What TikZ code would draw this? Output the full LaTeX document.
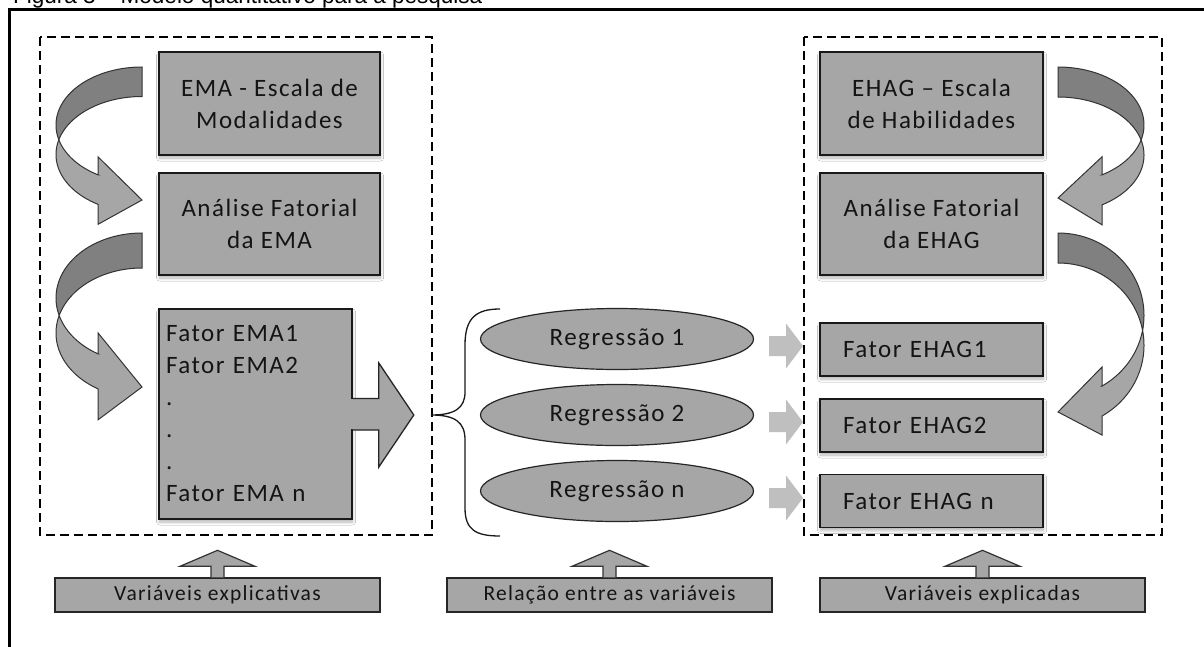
\documentclass[tikz,border=0pt]{standalone}
\usepackage{fontspec}
\setmainfont{Carlito}[LetterSpace=6]
\newfontfamily\capfont{Liberation Sans}
\usetikzlibrary{shapes.geometric,shadows.blur}

\definecolor{boxgray}{HTML}{A6A6A6}
\definecolor{backgray}{HTML}{808080}
\definecolor{pale}{HTML}{BFBFBF}
\definecolor{ink}{HTML}{141414}

\tikzset{
  softshadow/.style={blur shadow={shadow xshift=0.6pt, shadow yshift=-3pt,
      shadow blur steps=6, shadow blur radius=3pt, shadow opacity=30}},
  stage/.style={draw=black!90, line width=1.6pt, fill=boxgray, softshadow,
      inner sep=0pt, align=center, text=ink,
      font=\fontsize{25pt}{32pt}\selectfont},
  factor/.style={stage, align=left, inner xsep=23pt, text width=177pt,
      minimum width=223pt, minimum height=53pt},
  regress/.style={ellipse, draw=black!85, line width=1.2pt, fill=boxgray,
      inner sep=0pt, minimum width=273pt, minimum height=61pt, text=ink,
      font=\fontsize{25pt}{28pt}\selectfont},
  tag/.style={draw=black!85, line width=1.4pt, fill=boxgray, inner sep=0pt,
      minimum width=325pt, minimum height=34pt, text=ink,
      font=\fontsize{21.5pt}{24pt}\selectfont},
  groupframe/.style={line width=2.2pt, dash pattern=on 9pt off 5pt},
  bendback/.style={draw=black!80, line width=1pt, fill=backgray},
  bendfront/.style={draw=black!80, line width=1pt, fill=boxgray},
  lift/.style={draw=black!80, line width=1.2pt, fill=boxgray},
  feed/.style={fill=pale},
  bracket/.style={line width=1.3pt, black!90}
}

% curved ribbon arrow: #1 tail x, #2 tail top y, #3 band thickness,
% #4 vertical radius, #5 side (-1 bulges left, 1 bulges right),
% #6 head rise, #7 head drop, #8 tip y
\newcommand\bentarrow[8]{%
  \pgfmathsetmacro\bendA{acos(-#3/(2*#4))}%
  \pgfmathsetmacro\bendB{acos(#3/(2*#4))}%
  \pgfmathsetmacro\bendE{180-asin(44/86)}%
  \pgfmathsetmacro\bendCA{#2+#4}%
  \pgfmathsetmacro\bendCB{#2+#4+#3}%
  \pgfmathsetmacro\bendHX{#1+(#5)*44}%
  \pgfmathsetmacro\bendYA{\bendCA-#4*cos(\bendE)}%
  \pgfmathsetmacro\bendYB{\bendCB-#4*cos(\bendE)}%
  \draw[bendback]
    plot[domain=0:\bendA, samples=40, variable=\t]
      ({#1+(#5)*86*sin(\t)},{\bendCA-#4*cos(\t)})
    -- plot[domain=\bendB:0, samples=40, variable=\t]
      ({#1+(#5)*86*sin(\t)},{\bendCB-#4*cos(\t)})
    -- cycle;
  \draw[bendfront]
    plot[domain=\bendB:\bendE, samples=40, variable=\t]
      ({#1+(#5)*86*sin(\t)},{\bendCB-#4*cos(\t)})
    -- (\bendHX,\bendYB+#7) -- (#1,#8) -- (\bendHX,\bendYA-#6) -- (\bendHX,\bendYA)
    -- plot[domain=\bendE:\bendA, samples=40, variable=\t]
      ({#1+(#5)*86*sin(\t)},{\bendCA-#4*cos(\t)})
    -- cycle;
}

\begin{document}
\begin{tikzpicture}[x=1pt,y=-1pt]
\path[use as bounding box, clip] (0,0) rectangle (1204,646);
\fill[white] (0,0) rectangle (1204,646);

% caption and outer frame
\node[anchor=base west, inner sep=0pt, font=\capfont\fontsize{22.5pt}{27pt}\selectfont]
  (cap) at (13,3) {Figura 3 – Modelo quantitativo para a pesquisa};
\draw[line width=3pt] (9.5,700) -- (9.5,9.5) -- (1260,9.5);

% dashed groups
\draw[groupframe] (40,37) rectangle (432,535);
\draw[groupframe] (804,37) rectangle (1162,535);

% left column
\node[stage, minimum width=221pt, minimum height=103pt] (ema) at (269.5,103.5)
  {EMA - Escala de\\Modalidades};
\node[stage, minimum width=221pt, minimum height=102pt] (afema) at (269.5,224)
  {Análise Fatorial\\da EMA};
\node[stage, align=left, inner xsep=7pt, text width=179pt, minimum width=193pt,
  minimum height=210pt] (fem) at (255.5,414)
  {Fator EMA1\\Fator EMA2\\.\\.\\.\\Fator EMA n};

% right column
\node[stage, minimum width=223pt, minimum height=103pt] (ehag) at (931.5,103.5)
  {EHAG – Escala\\de Habilidades};
\node[stage, minimum width=223pt, minimum height=102pt] (afehag) at (931.5,224)
  {Análise Fatorial\\da EHAG};
\node[factor] (eh1) at (931.5,349.5) {Fator EHAG1};
\node[factor] (eh2) at (931.5,425.5) {Fator EHAG2};
\node[factor] (ehn) at (931.5,501) {Fator EHAG n};

% regressions
\node[regress] (r1) at (617,339) {Regressão 1};
\node[regress] (r2) at (617,415) {Regressão 2};
\node[regress] (rn) at (617,491) {Regressão n};

% curved arrows between the stages
\bentarrow{142}{67}{29.5}{58}{-1}{18}{20}{200}
\bentarrow{142}{233}{35}{65}{-1}{21}{31}{387}
\bentarrow{1058}{67}{30}{58}{1}{18}{20}{198}
\bentarrow{1058}{233}{30}{82.3}{1}{19}{19}{412}

% block arrow out of the factor list
\begin{scope}[shift={(fem.east)}]
  \fill[boxgray] (-1.6,-14.6) rectangle (1.6,15.1);
  \path[draw=black!85, line width=1.3pt, fill=boxgray]
    (0,-15.5) -- (26,-15.5) -- (26,-51) -- (61,1) -- (26,53) -- (26,16) -- (0,16);
\end{scope}

% brace over the regressions
\coordinate (brtip) at (431,415);
\draw[bracket] (500,309) .. controls (476,309) and (465,318) .. (465,345)
  -- (465,392) .. controls (465,408) and (455,415) .. (brtip)
  .. controls (455,415) and (465,422) .. (465,440)
  -- (465,508) .. controls (465,530) and (476,536) .. (500,536);

% light arrows into the explained factors
\foreach \c in {346,422,498}{
  \fill[feed] (769,\c-10) -- (786,\c-10) -- (786,\c-22.5) -- (803,\c)
    -- (786,\c+22.5) -- (786,\c+10) -- (769,\c+10) -- cycle;
}

% bottom labels
\node[tag] (expl) at (217.5,595) {Variáveis explicativas};
\node[tag] (rel) at (609.5,595) {Relação entre as variáveis};
\node[tag] (expd) at (982.5,595) {Variáveis explicadas};
\foreach \n in {expl,rel,expd}{
  \begin{scope}[shift={(\n.north)}]
    \path[lift] (-6.5,0) -- (-6.5,-11) -- (-37.5,-11) -- (0,-27)
      -- (37.5,-11) -- (6.5,-11) -- (6.5,0);
  \end{scope}
}
\end{tikzpicture}
\end{document}
